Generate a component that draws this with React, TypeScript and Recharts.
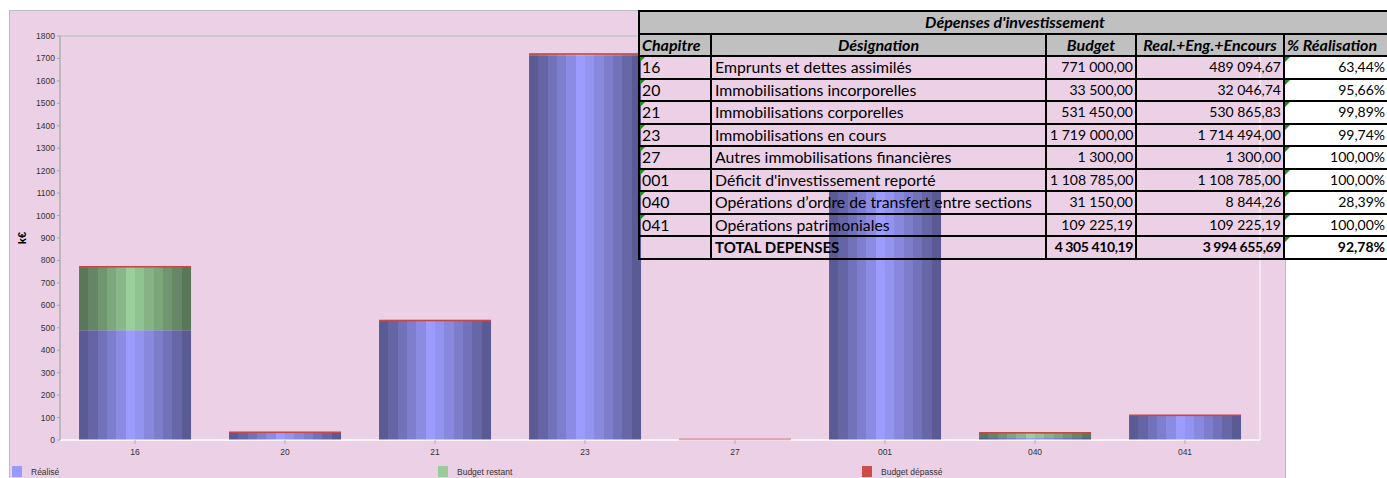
import React from 'react';
import { BarChart, Bar, XAxis, YAxis, ReferenceArea, ReferenceLine } from 'recharts';

// Dépenses d'investissement par chapitre (en euros)
const chapitres = ['16', '20', '21', '23', '27', '001', '040', '041'];
const designations = [
  'Emprunts et dettes assimilés',
  'Immobilisations incorporelles',
  'Immobilisations corporelles',
  'Immobilisations en cours',
  'Autres immobilisations financières',
  "Déficit d'investissement reporté",
  'Opérations d’ordre de transfert entre sections',
  'Opérations patrimoniales',
];
const budgets = [771000, 33500, 531450, 1719000, 1300, 1108785, 31150, 109225.19];
const realises = [489094.67, 32046.74, 530865.83, 1714494, 1300, 1108785, 8844.26, 109225.19];
const yTicks = [0, 100, 200, 300, 400, 500, 600, 700, 800, 900, 1000, 1100, 1200, 1300, 1400, 1500, 1600, 1700, 1800];

const chartData = chapitres.map((c, i) => ({
  chapitre: c,
  realise: realises[i] / 1000,
  restant: Math.max(budgets[i] - realises[i], 0) / 1000,
  depasse: Math.max(realises[i] - budgets[i], 0) / 1000,
}));

const totalBudget = budgets.reduce((a, b) => a + b, 0);
const totalRealise = realises.reduce((a, b) => a + b, 0);

function fmtEuro(v: number) {
  const [ent, dec] = v.toFixed(2).split('.');
  return ent.replace(/\B(?=(\d{3})+(?!\d))/g, ' ') + ',' + dec;
}
function fmtPct(r: number, b: number) {
  return (Math.round((r / b) * 10000) / 100).toFixed(2).replace('.', ',') + '%';
}

// shading of the cylinder-like bars, left to right
const shade = [0.58, 0.65, 0.73, 0.81, 0.89, 1.0, 0.94, 0.87, 0.8, 0.73, 0.66, 0.58];

function Stripes({ id, base }: { id: string; base: [number, number, number] }) {
  const n = shade.length;
  const stops: React.ReactNode[] = [];
  shade.forEach((f, i) => {
    const c = `rgb(${Math.round(base[0] * f)},${Math.round(base[1] * f)},${Math.round(base[2] * f)})`;
    stops.push(<stop key={i + 'a'} offset={`${(i / n) * 100}%`} stopColor={c} />);
    stops.push(<stop key={i + 'b'} offset={`${((i + 1) / n) * 100}%`} stopColor={c} />);
  });
  return (
    <linearGradient id={id} x1="0" y1="0" x2="1" y2="0">
      {stops}
    </linearGradient>
  );
}

const RedTop = (props: any) => {
  const { x, y, width } = props;
  if (x == null || y == null) return null;
  return <rect x={x} y={y - 1} width={width} height={1.6} fill="#C84848" />;
};

const tickStyle = { fontFamily: 'Liberation Sans, Arial, sans-serif', fontSize: 8.5, fill: '#333' };

const border = '2px solid #000';
const headBg = '#C0C0C0';

function Tri() {
  return (
    <span
      style={{
        position: 'absolute',
        left: 0,
        top: 0,
        width: 0,
        height: 0,
        borderTop: '5px solid #1E8C1E',
        borderRight: '5px solid transparent',
      }}
    />
  );
}

function InvestTable() {
  const cell: React.CSSProperties = { border, padding: '0 3px', position: 'relative', whiteSpace: 'nowrap', height: 20.5 };
  const num: React.CSSProperties = { ...cell, textAlign: 'right', fontSize: 14, paddingRight: 2 };
  const head: React.CSSProperties = { ...cell, background: headBg, fontWeight: 700, fontStyle: 'italic', textAlign: 'center', fontSize: 16 };
  const tight: React.CSSProperties = { letterSpacing: -0.4 };
  return (
    <table
      style={{
        position: 'absolute',
        left: 638,
        top: 10,
        width: 752,
        borderCollapse: 'collapse',
        tableLayout: 'fixed',
        fontFamily: 'Lato, sans-serif',
        fontSize: 15.8,
        lineHeight: '18px',
        color: '#000',
      }}
    >
      <colgroup>
        <col style={{ width: 72 }} />
        <col style={{ width: 335 }} />
        <col style={{ width: 90 }} />
        <col style={{ width: 148 }} />
        <col style={{ width: 107 }} />
      </colgroup>
      <tbody>
        <tr>
          <td colSpan={5} style={{ ...head }}>Dépenses d'investissement</td>
        </tr>
        <tr>
          <td style={{ ...head, textAlign: 'left', paddingLeft: 2 }}>Chapitre</td>
          <td style={head}>Désignation</td>
          <td style={head}>Budget</td>
          <td style={head}>Real.+Eng.+Encours</td>
          <td style={{ ...head, textAlign: 'left', paddingLeft: 2 }}>% Réalisation</td>
        </tr>
        {chapitres.map((c, i) => (
          <tr key={c}>
            <td style={{ ...cell, paddingLeft: 2 }}>
              <Tri />
              {c}
            </td>
            <td style={cell}>{designations[i]}</td>
            <td style={num}>{fmtEuro(budgets[i])}</td>
            <td style={num}>{fmtEuro(realises[i])}</td>
            <td style={{ ...num, background: '#fff', paddingRight: 5 }}>
              <Tri />
              {fmtPct(realises[i], budgets[i])}
            </td>
          </tr>
        ))}
        <tr style={{ fontWeight: 700 }}>
          <td style={cell}></td>
          <td style={{ ...cell, fontSize: 15 }}>TOTAL DEPENSES</td>
          <td style={{ ...num, ...tight }}>{fmtEuro(totalBudget)}</td>
          <td style={{ ...num, ...tight }}>{fmtEuro(totalRealise)}</td>
          <td style={{ ...num, background: '#fff', paddingRight: 5 }}>
            <Tri />
            {fmtPct(totalRealise, totalBudget)}
          </td>
        </tr>
      </tbody>
    </table>
  );
}

const legendItems = [
  { label: 'Réalisé', color: '#9999FF', left: 12 },
  { label: 'Budget restant', color: '#99CC99', left: 438 },
  { label: 'Budget dépassé', color: '#CC4C4C', left: 862 },
];

export default function App() {
  return (
    <div style={{ position: 'absolute', left: 0, top: 0, width: 1387, height: 478, overflow: 'hidden', background: '#fff' }}>
      <div
        style={{
          position: 'absolute',
          left: 9,
          top: 10,
          width: 1275,
          height: 480,
          background: '#ECD0E6',
          border: '1px solid #BDBDBD',
        }}
      />
      <div style={{ position: 'absolute', left: 0, top: 0 }}>
        <BarChart
          width={1387}
          height={478}
          data={chartData}
          margin={{ top: 36, right: 127, bottom: 0, left: 0 }}
          barCategoryGap="12.7%"
        >
          <defs>
            <Stripes id="gBlue" base={[156, 156, 255]} />
            <Stripes id="gGreen" base={[154, 206, 154]} />
          </defs>
          <ReferenceArea y1={0} y2={1800} fill="none" stroke="#FFFFFF" strokeWidth={1} ifOverflow="visible" />
          <ReferenceLine y={1800} stroke="#A8A8A8" strokeWidth={1} />
          <XAxis
            dataKey="chapitre"
            height={38}
            tick={tickStyle}
            tickSize={4}
            tickMargin={5}
            axisLine={{ stroke: '#FFFFFF' }}
            tickLine={{ stroke: '#B0B0B0' }}
          />
          <YAxis
            domain={[0, 1800]}
            ticks={yTicks}
            width={60}
            tick={tickStyle}
            tickSize={3}
            tickMargin={2}
            axisLine={{ stroke: '#A8A8A8', strokeWidth: 1.5 }}
            tickLine={{ stroke: '#A8A8A8' }}
            interval={0}
          />
          <Bar dataKey="realise" stackId="a" fill="url(#gBlue)" isAnimationActive={false} />
          <Bar dataKey="restant" stackId="a" fill="url(#gGreen)" isAnimationActive={false} />
          <Bar dataKey="depasse" stackId="a" fill="#CC4C4C" shape={RedTop} isAnimationActive={false} />
        </BarChart>
      </div>
      <div
        style={{
          position: 'absolute',
          left: 22,
          top: 238,
          transform: 'translate(-50%, -50%) rotate(-90deg)',
          fontFamily: 'Liberation Sans, Arial, sans-serif',
          fontWeight: 700,
          fontSize: 11,
          color: '#000',
        }}
      >
        k€
      </div>
      {legendItems.map((it) => (
        <div key={it.label} style={{ position: 'absolute', left: it.left, top: 466, display: 'flex', alignItems: 'center' }}>
          <span style={{ display: 'inline-block', width: 10, height: 11, background: it.color }} />
          <span
            style={{
              marginLeft: 9,
              fontFamily: 'Liberation Sans, Arial, sans-serif',
              fontSize: 8.5,
              color: '#333',
            }}
          >
            {it.label}
          </span>
        </div>
      ))}
      <InvestTable />
    </div>
  );
}
